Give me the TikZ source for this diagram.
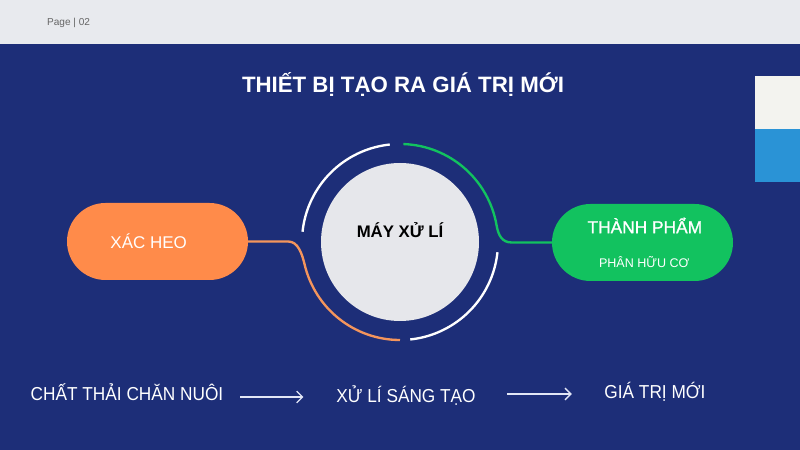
\documentclass[tikz,border=0pt]{standalone}
\usepackage{fontspec}
\setmainfont{Liberation Sans}
\newfontfamily\condfont[FakeStretch=0.92]{Liberation Sans}
\usetikzlibrary{calc,arrows.meta}

\definecolor{navy}{HTML}{1D2E78}
\definecolor{topbar}{HTML}{E8EAEE}
\definecolor{heo}{HTML}{FF8B4A}
\definecolor{heoline}{HTML}{F4955C}
\definecolor{pham}{HTML}{12C25F}
\definecolor{disc}{HTML}{E6E7EB}
\definecolor{tabwhite}{HTML}{F3F3EF}
\definecolor{tabblue}{HTML}{2A93D6}
\definecolor{arrowline}{HTML}{E2E6F6}

\begin{document}
\begin{tikzpicture}[x=0.03cm, y=0.03cm]

\pgfmathsetmacro{\ringR}{98}
\tikzset{
  pill/.style={rounded corners=38.5*0.03cm, minimum width=181*0.03cm, minimum height=77*0.03cm, inner sep=0pt, text=white},
  ring/.style={line width=2pt},
  flow/.style={text=white, font=\condfont\fontsize{16}{18}\selectfont},
  step arrow/.style={draw=arrowline, line width=1.1pt, -{Straight Barb[length=5pt,width=10pt]}},
}

\useasboundingbox (0,0) rectangle (800,450);
\fill[navy] (0,0) rectangle (800,450);
\fill[topbar] (0,406) rectangle (800,450);
\node[anchor=west, text=black!60, font=\fontsize{8.6}{10}\selectfont, name=page] at (43,427) {Page | 02};

% side tabs
\fill[tabwhite] (755,374) rectangle (800,321);
\fill[tabblue] (755,321) rectangle (800,268);

\node[text=white, font=\bfseries\fontsize{19}{22}\selectfont, name=title] at (403,365) {THIẾT BỊ TẠO RA GIÁ TRỊ MỚI};

% machine
\node[circle, fill=disc, minimum size=158*0.03cm, inner sep=0pt, name=may] at (400,208) {};
\node[font=\bfseries\fontsize{14.3}{16}\selectfont, name=maytext] at ($(may)+(0,12)$) {MÁY XỬ LÍ};
\draw[ring, white] ($(may)+(96:\ringR)$) arc[start angle=96, end angle=174, radius=\ringR];
\draw[ring, white] ($(may)+(276:\ringR)$) arc[start angle=276, end angle=354, radius=\ringR];

\node[pill, fill=heo, font=\fontsize{14.5}{16}\selectfont, name=xac] at (157.5,208.5) {XÁC HEO\kern 15pt};
\node[pill, fill=pham, align=center, name=thanh] at (642.5,207.5)
  {\kern 4pt{\fontsize{14.8}{16}\selectfont\addfontfeature{FakeBold=1}THÀNH PHẨM}\\[17pt]\kern 3pt{\fontsize{10.7}{12}\selectfont PHÂN HỮU CƠ}};

% connectors
\draw[ring, heoline] (xac.east) -- ++(40,0) .. controls +(10,0) and +(-2.5,10) .. ($(may)+(193:\ringR)$)
  arc[start angle=193, end angle=270, radius=\ringR];
\draw[ring, pham] ($(may)+(88:\ringR)$) arc[start angle=88, end angle=10, radius=\ringR]
  .. controls +(1.7,-10) and +(-10,0) .. ($(thanh.west)+(-40,0)$) -- (thanh.west);

% flow
\node[flow, name=chat] at (127,58) {CHẤT THẢI CHĂN NUÔI};
\node[flow, name=sangtao] at (406,54) {XỬ LÍ SÁNG TẠO};
\node[flow, name=moi] at (655,58) {GIÁ TRỊ MỚI};
\draw[step arrow] (chat.east |- 0,53) ++(13,0) -- ++(63,0);
\draw[step arrow] (sangtao.east |- 0,56) ++(27,0) -- ++(65,0);

\end{tikzpicture}
\end{document}
